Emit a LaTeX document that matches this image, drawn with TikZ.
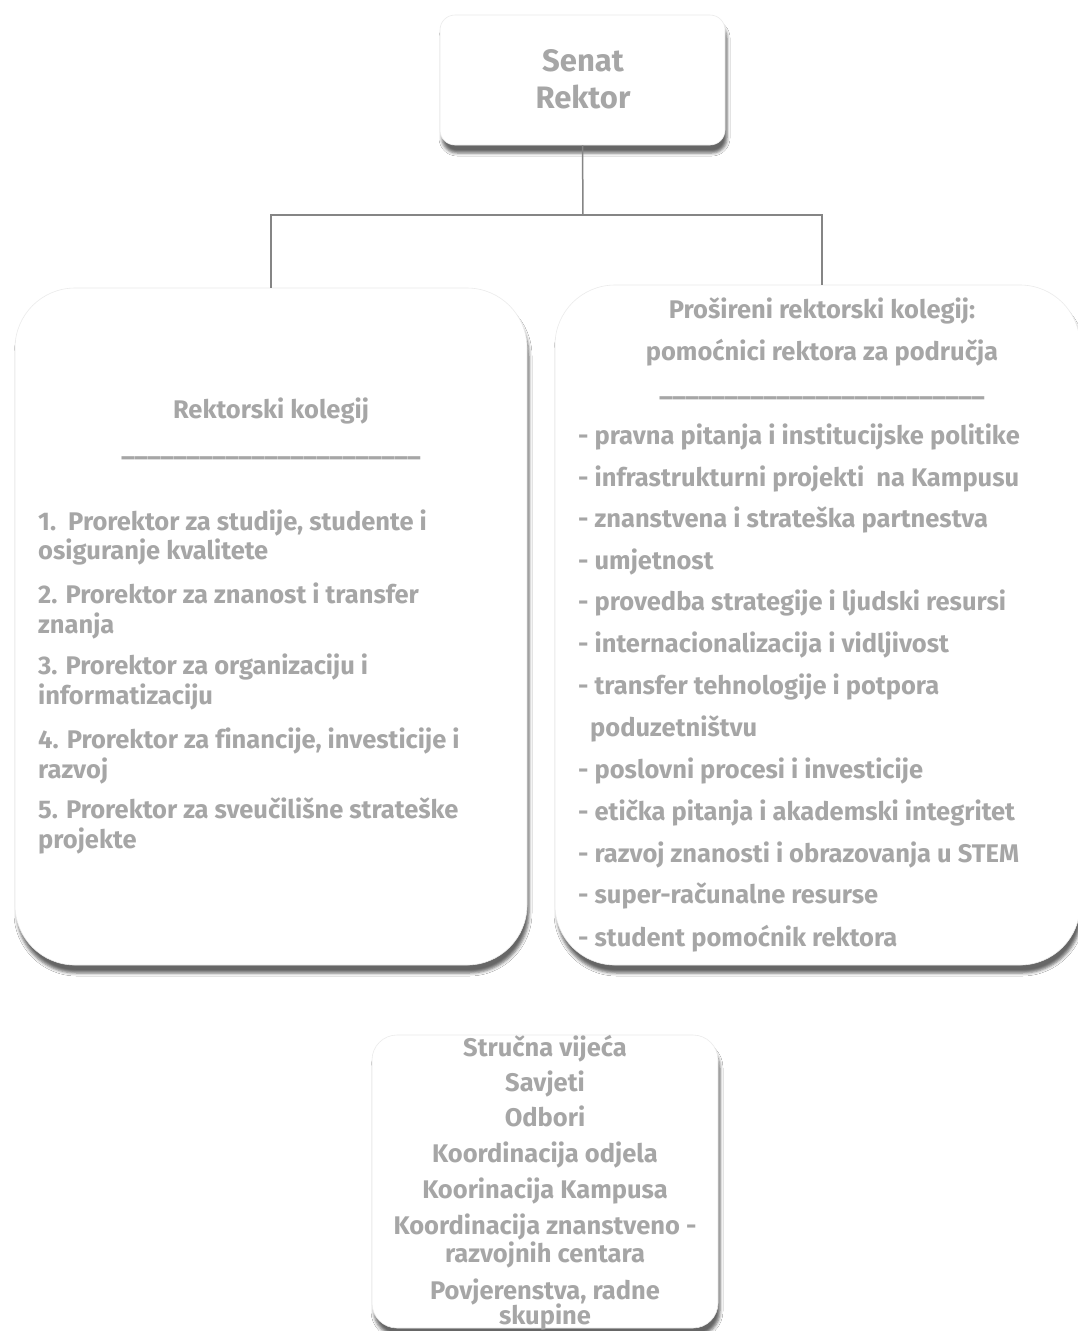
\documentclass[tikz,border=0pt]{standalone}
\usepackage{fontspec}
\setmainfont{Fira Sans}[Ligatures=CommonOff]
\usetikzlibrary{shadows.blur,calc}
\definecolor{txt}{HTML}{A6A6A6}
\definecolor{lin}{HTML}{858585}
\begin{document}
\begin{tikzpicture}[x=1pt,y=-1pt,
  box/.style={draw=black!8, line width=0.6pt, fill=white,
    blur shadow={shadow xshift=2pt, shadow yshift=-8pt, shadow blur radius=3pt, shadow opacity=60}},
  t/.style={text=txt, font=\bfseries\fontsize{25.5}{30}\selectfont, inner sep=0pt},
  tb/.style={text=txt, font=\bfseries\fontsize{31}{37}\selectfont, inner sep=0pt, align=center},
  conn/.style={draw=lin, line width=1.5pt}]
\useasboundingbox (0,0) rectangle (1078,1331);
\fill[white] (0,0) rectangle (1078,1331);

% boxes
\node[box, rounded corners=15pt, minimum width=285pt, minimum height=130pt] (senat) at (582.5,80) {};
\node[box, rounded corners=60pt, minimum width=512pt, minimum height=677pt] (left) at (271,626.5) {};
\node[box, rounded corners=60pt, minimum width=525pt, minimum height=680pt] (right) at (817.5,625) {};
\node[box, rounded corners=25pt, minimum width=346pt, minimum height=293pt] (bottom) at (545,1181.5) {};

% connectors
\coordinate (j) at (583,215);
\draw[conn] (senat.south) -- (j);
\draw[conn] (j) -| (left.north);
\draw[conn] (j) -| ($(right.north)+(4.5,0)$);

% top text
\node[tb] (senattxt) at (583,79) {Senat\\Rektor};

% left box
\node[t, anchor=base] (lhead) at (271,418) {Rektorski kolegij};
\node[t, anchor=base] (lrule) at (271,455) {\_\_\_\_\_\_\_\_\_\_\_\_\_\_\_\_\_\_\_\_\_\_\_};
\foreach \txtline/\yy [count=\i] in {{1.\ \ Prorektor za studije, studente i}/530,
  {osiguranje kvalitete}/559,
  {2. Prorektor za znanost i transfer}/603,
  {znanja}/633,
  {3. Prorektor za organizaciju i}/674,
  {informatizaciju}/704,
  {4. Prorektor za financije, investicije i}/748,
  {razvoj}/778,
  {5. Prorektor za sveučilišne strateške}/818,
  {projekte}/848}
  \node[t, anchor=base west] (l\i) at (38,\yy) {\txtline};

% right box
\node[t, anchor=base] (rhead1) at (822,318) {Prošireni rektorski kolegij:};
\node[t, anchor=base] (rhead2) at (822,360) {pomoćnici rektora za područja};
\node[t, anchor=base] (rrule) at (822,395) {\_\_\_\_\_\_\_\_\_\_\_\_\_\_\_\_\_\_\_\_\_\_\_\_\_};
\foreach \txtline/\yy/\xx [count=\i] in {
  {- pravna pitanja i institucijske politike}/444/578,
  {- infrastrukturni projekti\ \ na Kampusu}/486/578,
  {- znanstvena i strateška partnestva}/527/578,
  {- umjetnost}/569/578,
  {- provedba strategije i ljudski resursi}/610/578,
  {- internacionalizacija i vidljivost}/652/578,
  {- transfer tehnologije i potpora}/694/578,
  {poduzetništvu}/736/590,
  {- poslovni procesi i investicije}/778/578,
  {- etička pitanja i akademski integritet}/820/578,
  {- razvoj znanosti i obrazovanja u STEM}/862/578,
  {- super-računalne resurse}/903/578,
  {- student pomoćnik rektora}/946/578}
  \node[t, anchor=base west] (r\i) at (\xx,\yy) {\txtline};

% bottom box
\foreach \txtline/\yy [count=\i] in {
  {Stručna vijeća}/1056,
  {Savjeti}/1091,
  {Odbori}/1126,
  {Koordinacija odjela}/1162,
  {Koorinacija Kampusa}/1198,
  {Koordinacija znanstveno -}/1234,
  {razvojnih centara}/1262,
  {Povjerenstva, radne}/1299,
  {skupine}/1324}
  \node[t, anchor=base] (b\i) at (545,\yy) {\txtline};
\end{tikzpicture}
\end{document}
